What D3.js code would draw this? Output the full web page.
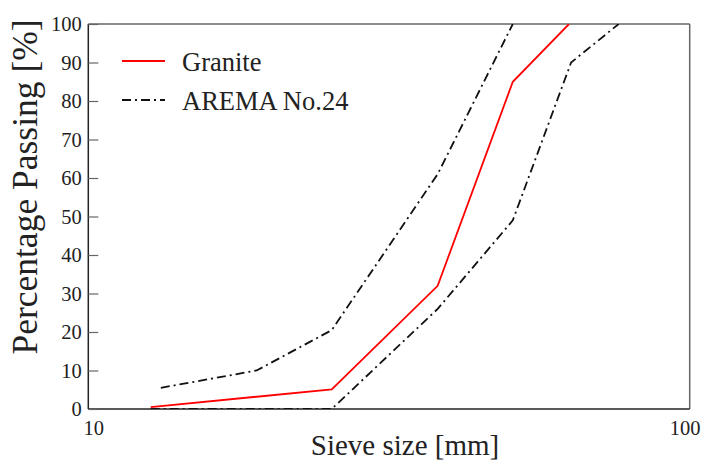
<!DOCTYPE html>
<html>
<head>
<meta charset="utf-8">
<script src="https://cdn.jsdelivr.net/npm/d3@7"></script>
<style>
  body { margin: 0; background: #fff; }
  svg text { font-family: "Liberation Serif", "Times New Roman", "DejaVu Serif", serif !important; fill: #222; }
</style>
</head>
<body>
<div class="graph"></div>
<script>
const w = 704;
const h = 462;
const margin = {top: 24, right: 14.3, bottom: 53, left: 88.3};
const serif = '"Liberation Serif", "Times New Roman", "DejaVu Serif", serif';

// sieve sizes [mm] and percentage passing
const sieveGranite = [12.7, 25.4, 38.1, 50.8, 63];
const passGranite  = [0.5, 5.1, 32, 85, 100];

const sieveUpper = [13.2, 19.05, 25.4, 38.1, 50.8];
const passUpper  = [5.5, 10, 20.5, 61, 100];

const sieveLower = [12.7, 25.4, 38.1, 50.8, 63.5, 76.2];
const passLower  = [0, 0, 26, 49, 90, 100];

const xTicks = [10, 100];
const yTicks = [0, 10, 20, 30, 40, 50, 60, 70, 80, 90, 100];
const legendLabels = ["Granite", "AREMA No.24"];

const dashDot = "9,4,2,4";

const x = d3.scaleLog()
            .domain([10, 100])
            .range([margin.left, w - margin.right]);

const y = d3.scaleLinear()
            .domain([0, 100])
            .range([h - margin.bottom, margin.top]);

const canvas = d3.select(".graph")
                 .append("svg")
                 .attr("width", w)
                 .attr("height", h)
                 .style("font-family", serif);

canvas.append("defs").append("clipPath")
      .attr("id", "clip")
      .append("rect")
      .attr("x", margin.left)
      .attr("y", margin.top)
      .attr("width", w - margin.right - margin.left)
      .attr("height", h - margin.bottom - margin.top);

// frame
canvas.append("line")
      .attr("x1", margin.left).attr("x2", w - margin.right)
      .attr("y1", margin.top).attr("y2", margin.top)
      .attr("stroke", "#666").attr("stroke-width", 1.5);
canvas.append("line")
      .attr("x1", w - margin.right).attr("x2", w - margin.right)
      .attr("y1", margin.top).attr("y2", h - margin.bottom)
      .attr("stroke", "#666").attr("stroke-width", 1.5);
canvas.append("line")
      .attr("x1", margin.left).attr("x2", margin.left)
      .attr("y1", margin.top).attr("y2", h - margin.bottom)
      .attr("stroke", "#222").attr("stroke-width", 1.5);
canvas.append("line")
      .attr("x1", margin.left).attr("x2", w - margin.right)
      .attr("y1", h - margin.bottom).attr("y2", h - margin.bottom)
      .attr("stroke", "#222").attr("stroke-width", 1.5);

// axes
const yAxis = d3.axisLeft(y)
                .tickValues(yTicks)
                .tickSizeInner(-10)
                .tickSizeOuter(0)
                .tickPadding(6.5)
                .tickFormat(d3.format("d"));

const gy = canvas.append("g")
                 .attr("transform", `translate(${margin.left},0)`)
                 .call(yAxis)
                 .attr("font-family", serif);
gy.select(".domain").remove();
gy.selectAll("line").attr("stroke", "#666").attr("stroke-width", 1.2);
gy.selectAll("text").attr("font-size", 20.5).style("font-family", serif).attr("fill", "#222");

const xAxis = d3.axisBottom(x)
                .tickValues(xTicks)
                .tickSize(0)
                .tickPadding(11)
                .tickFormat(d3.format("d"));

const gx = canvas.append("g")
                 .attr("transform", `translate(0,${h - margin.bottom})`)
                 .call(xAxis)
                 .attr("font-family", serif);
gx.select(".domain").remove();
gx.selectAll("text")
  .attr("font-size", 20.5)
  .style("font-family", serif)
  .attr("fill", "#222")
  .attr("dx", (d, i) => i === 0 ? 5 : -5);

// axis titles
canvas.append("text")
      .attr("x", 405)
      .attr("y", 455)
      .attr("text-anchor", "middle")
      .attr("font-size", 29)
      .style("font-family", serif)
      .text("Sieve size [mm]");

canvas.append("text")
      .attr("transform", "translate(37,187) rotate(-90)")
      .attr("text-anchor", "middle")
      .attr("font-size", 35.5)
      .style("font-family", serif)
      .text("Percentage Passing [%]");

// curves
const line = d3.line()
               .x(d => x(d[0]))
               .y(d => y(d[1]));

const plot = canvas.append("g").attr("clip-path", "url(#clip)");

plot.append("path")
    .datum(d3.zip(sieveLower, passLower))
    .attr("d", line)
    .attr("fill", "none")
    .attr("stroke", "#111")
    .attr("stroke-width", 1.8)
    .attr("stroke-dasharray", dashDot);

plot.append("path")
    .datum(d3.zip(sieveUpper, passUpper))
    .attr("d", line)
    .attr("fill", "none")
    .attr("stroke", "#111")
    .attr("stroke-width", 1.8)
    .attr("stroke-dasharray", dashDot);

plot.append("path")
    .datum(d3.zip(sieveGranite, passGranite))
    .attr("d", line)
    .attr("fill", "none")
    .attr("stroke", "#ff0000")
    .attr("stroke-width", 1.8);

// legend
const legend = canvas.append("g")
                     .attr("transform", "translate(122,61)");

const item = legend.selectAll("g")
                   .data(legendLabels)
                   .enter()
                   .append("g")
                   .attr("transform", (d, i) => `translate(0,${i * 39})`);

item.append("line")
    .attr("x1", 0).attr("x2", 43)
    .attr("stroke", (d, i) => i === 0 ? "#ff0000" : "#111")
    .attr("stroke-width", 1.8)
    .attr("stroke-dasharray", (d, i) => i === 0 ? null : dashDot);

item.append("text")
    .attr("x", 60)
    .attr("y", 9.5)
    .attr("font-size", 26.5)
    .style("font-family", serif)
    .text(d => d);
</script>
</body>
</html>
